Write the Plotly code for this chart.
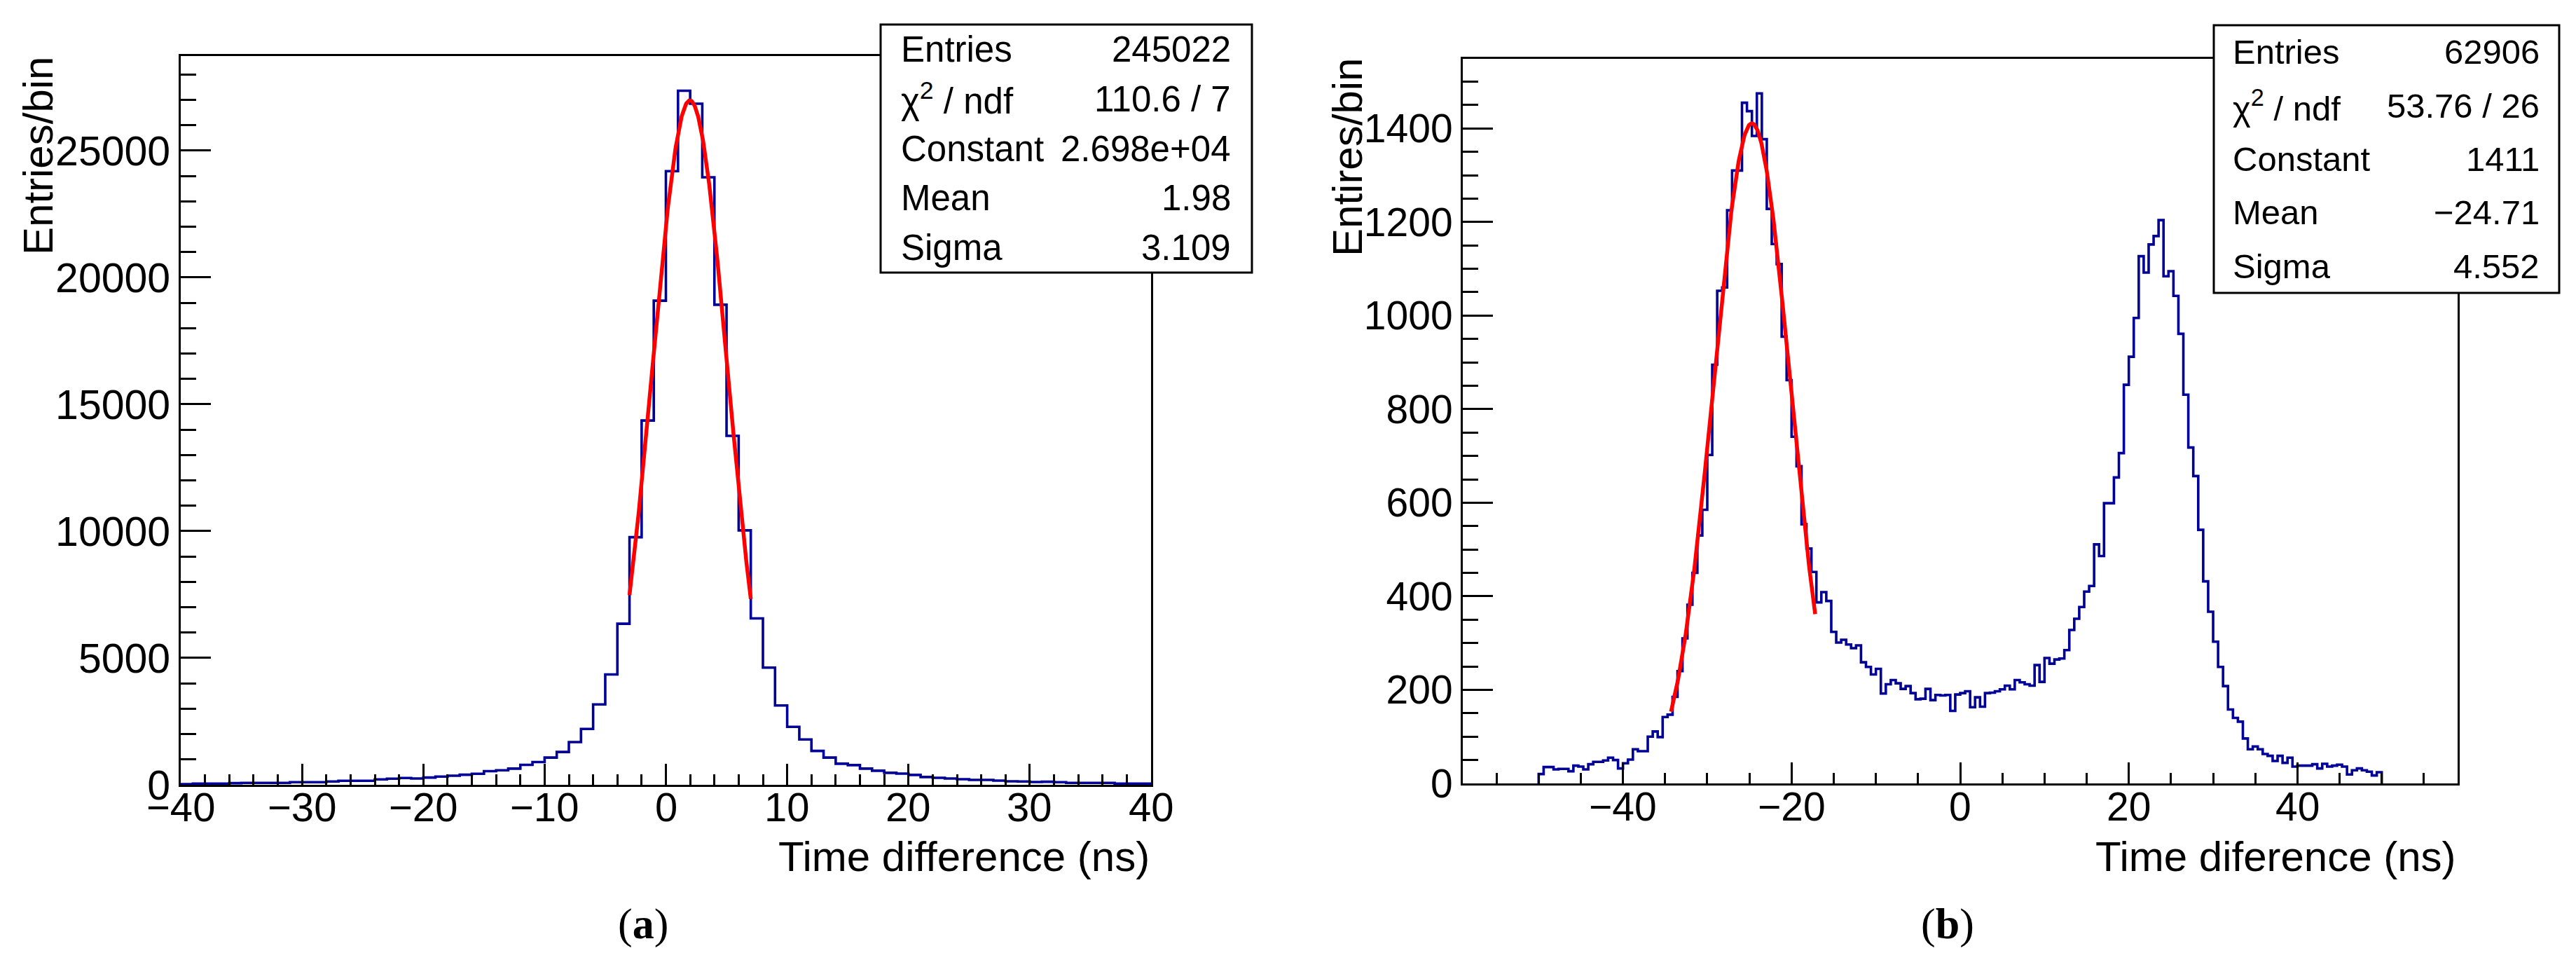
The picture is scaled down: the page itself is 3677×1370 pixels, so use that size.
import numpy as np
import plotly.graph_objs as go

W, H = 3677, 1370

# ---- panel (a): 1 ns bins from -40 to 40 ----
A_RANGE = (-40, 40)
a_counts = [28, 46, 46, 46, 65, 74, 74, 74, 74, 102, 102, 102, 130, 157, 157, 157,
            213, 241, 269, 250, 287, 324, 361, 398, 435, 537, 574, 639, 787, 898,
            1074, 1296, 1685, 2204, 3170, 4350,
            6350, 9760, 14360, 19085, 24190, 27360, 26850, 23950, 18925, 13755, 10030, 6560,
            4620, 3130, 2287, 1787, 1337, 1074, 833, 778, 639, 556, 472, 444, 389, 306,
            278, 250, 222, 194, 194, 167, 139, 130, 111, 120, 102, 74, 74, 74, 74, 46, 46, 46]
a_xticks = [-40, -30, -20, -10, 0, 10, 20, 30, 40]
a_fit = {"const": 2.698e4, "mean": 1.98, "sigma": 3.109, "lo": -3.0, "hi": 7.0}
a_stat_labels = ["Entries", "χ<sup>2</sup> / ndf", "Constant", "Mean", "Sigma"]
a_stat_values = ["245022", "110.6 / 7", "2.698e+04", "1.98", "3.109"]

# ---- panel (b): 170 bins from -50 to 50 ----
B_RANGE = (-50, 50)
b_counts = [20, 35, 35, 30, 31, 31, 26, 38, 36, 30, 41, 46, 46, 49, 55, 50, 32, 43, 51, 73,
            69, 69, 100, 111, 99,
            142, 147, 185, 240, 310, 382, 450, 530, 585, 702, 895, 1053, 1060, 1225, 1310,
            1310, 1455, 1437, 1384, 1475, 1377, 1228, 1153, 1110, 955, 862, 741, 678, 554,
            502, 452, 387, 409,
            390, 324, 301, 307, 297, 289, 295, 259, 249, 233, 245, 192, 212, 221, 214, 202,
            208, 193, 180, 181, 202, 178, 189, 188, 189, 155, 190, 193, 197, 163, 184, 164,
            193, 194, 197, 201, 209, 201, 221, 216, 212, 209, 253, 217, 268, 256, 265, 267,
            285, 328, 352, 377, 410, 422, 511, 486, 599, 599, 654, 706,
            852, 912, 995, 1127, 1092, 1152, 1170, 1204, 1084, 1095, 1042, 961, 831, 718,
            657, 542, 432, 367, 303, 249, 208, 158, 140, 132, 96, 73, 79, 73, 63, 59, 48,
            59, 44, 55, 36, 38, 38, 38, 41, 32, 42, 36, 38, 40, 36, 19, 28, 32, 28, 25, 17, 24]
b_xticks = [-40, -20, 0, 20, 40]
b_fit = {"const": 1411, "mean": -24.71, "sigma": 4.552, "lo": -34.3, "hi": -17.2}
b_stat_labels = ["Entries", "χ<sup>2</sup> / ndf", "Constant", "Mean", "Sigma"]
b_stat_values = ["62906", "53.76 / 26", "1411", "−24.71", "4.552"]

assert len(a_counts) == 80 and len(b_counts) == 170

HIST_COLOR = "#000099"
FIT_COLOR = "#ff0000"
FONT = "Liberation Sans"


def px(x):
    return x / W


def py(y):
    return 1 - y / H


def hist_trace(rng, counts, xa, ya):
    edges = np.linspace(rng[0], rng[1], len(counts) + 1)
    xs = [edges[0]] + list(edges)
    ys = [0] + list(counts) + [0]
    ys[-2] = counts[-1]
    return go.Scatter(x=xs, y=ys, mode="lines", line_shape="hv",
                      line=dict(color=HIST_COLOR, width=3.6),
                      xaxis=xa, yaxis=ya, hoverinfo="skip", showlegend=False)


def fit_trace(p, xa, ya):
    xf = np.linspace(p["lo"], p["hi"], 300)
    yf = p["const"] * np.exp(-0.5 * ((xf - p["mean"]) / p["sigma"]) ** 2)
    return go.Scatter(x=xf, y=yf, mode="lines", line=dict(color=FIT_COLOR, width=5.5),
                      xaxis=xa, yaxis=ya, hoverinfo="skip", showlegend=False)


data = [hist_trace(A_RANGE, a_counts, "x", "y"), fit_trace(a_fit, "x", "y"),
        hist_trace(B_RANGE, b_counts, "x2", "y2"), fit_trace(b_fit, "x2", "y2")]


def xaxis(domain, rng, dtick, minor, anchor):
    return dict(domain=domain, range=rng, anchor=anchor, tick0=0, dtick=dtick,
                ticks="inside", ticklen=30, tickwidth=3, tickcolor="black",
                minor=dict(dtick=minor, ticks="inside", ticklen=15, tickwidth=3, tickcolor="black"),
                showline=True, mirror=True, linewidth=3, linecolor="black",
                showgrid=False, zeroline=False, showticklabels=False, automargin=False)


def yaxis(domain, rng, dtick, minor, anchor, size):
    return dict(domain=domain, range=rng, anchor=anchor, tick0=0, dtick=dtick,
                ticks="inside", ticklen=43, tickwidth=3, tickcolor="black", tickformat="d",
                minor=dict(dtick=minor, ticks="inside", ticklen=22, tickwidth=3, tickcolor="black"),
                showline=True, mirror=True, linewidth=3, linecolor="black",
                showgrid=False, zeroline=False, ticklabelstandoff=0, automargin=False,
                tickfont=dict(family=FONT, size=size, color="black"))


layout = dict(
    width=W, height=H, margin=dict(l=0, r=0, t=0, b=0, pad=0, autoexpand=False),
    paper_bgcolor="white", plot_bgcolor="white", showlegend=False,
    xaxis=xaxis([px(250), px(1635)], list(A_RANGE), 10, 2, "y"),
    yaxis=yaxis([py(1112), py(72)], [0, 1.05 * max(a_counts)], 5000, 1000, "x", 59),
    xaxis2=xaxis([px(2080), px(3500)], [-59, 59], 20, 5, "y2"),
    yaxis2=yaxis([py(1110), py(76)], [0, 1.05 * max(b_counts)], 200, 50, "x2", 57),
)

fig = go.Figure(data=data, layout=go.Layout(layout))

shapes = []
annotations = []


def stats_box(x0, y0, x1, y1, labels, values, lx, rx, size):
    shapes.append(dict(type="rect", xref="paper", yref="paper",
                       x0=px(x0), x1=px(x1), y0=py(y0), y1=py(y1),
                       line=dict(color="black", width=3), fillcolor="white", layer="above"))
    row = (y1 - y0) / len(labels)
    for i, (lab, val) in enumerate(zip(labels, values)):
        yc = py(y0 + row * (i + 0.5))
        annotations.append(dict(x=px(lx), y=yc, xref="paper", yref="paper", text=lab,
                                xanchor="left", yanchor="middle", showarrow=False,
                                font=dict(family=FONT, size=size, color="black")))
        annotations.append(dict(x=px(rx), y=yc, xref="paper", yref="paper", text=val,
                                xanchor="right", yanchor="middle", showarrow=False,
                                font=dict(family=FONT, size=size, color="black")))


stats_box(1249, 27, 1779, 381, a_stat_labels, a_stat_values, 1276, 1751, 51)
stats_box(3152, 28, 3645, 410, b_stat_labels, b_stat_values, 3177, 3619, 49)


def tick_labels(ticks, xref, size):
    for t in ticks:
        txt = ("−%d" % -t) if t < 0 else "%d" % t
        annotations.append(dict(x=t, y=py(1143), xref=xref, yref="paper", text=txt,
                                xanchor="center", yanchor="middle", showarrow=False,
                                font=dict(family=FONT, size=size, color="black")))


tick_labels(a_xticks, "x", 58)
tick_labels(b_xticks, "x2", 57)


def label(x, y, text, size, xanchor="center", angle=0, family=FONT):
    annotations.append(dict(x=px(x), y=py(y), xref="paper", yref="paper", text=text,
                            xanchor=xanchor, yanchor="middle", textangle=angle, showarrow=False,
                            font=dict(family=family, size=size, color="black")))


# axis titles
label(1635, 1214, "Time difference (ns)", 60, xanchor="right")
label(3500, 1214, "Time diference (ns)", 60, xanchor="right")
label(47, 215, "Entries/bin", 60, angle=-90)
label(1916, 216, "Entires/bin", 60, angle=-90)
# panel captions
label(910, 1310, "(<b>a</b>)", 62, family="Liberation Serif")
label(2772, 1310, "(<b>b</b>)", 62, family="Liberation Serif")

fig.update_layout(shapes=shapes, annotations=annotations)

fig.write_html("out.html")
